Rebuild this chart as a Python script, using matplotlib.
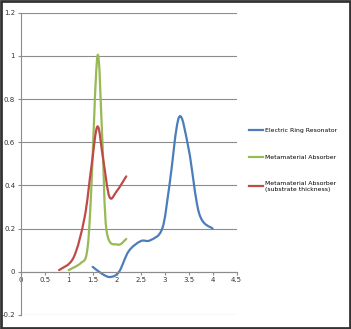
import matplotlib
matplotlib.use("Agg")
import matplotlib.pyplot as plt
from matplotlib.path import Path
from matplotlib.patches import PathPatch, Rectangle
from matplotlib.lines import Line2D
import numpy as np

plt.rcParams['font.family'] = ['DejaVu Sans']

# values
ring_x = [1.5, 1.7, 1.87, 2.05, 2.25, 2.5, 2.7, 2.95, 3.1, 3.3, 3.5, 3.72, 4.0]
ring_y = [0.023, -0.01, -0.024, 0.0, 0.095, 0.142, 0.146, 0.2, 0.4, 0.716, 0.57, 0.27, 0.2]

abs_x = [1.0, 1.25, 1.38, 1.46, 1.6, 1.7, 1.79, 2.02, 2.2]
abs_y = [0.008, 0.04, 0.09, 0.33, 1.0, 0.62, 0.19, 0.126, 0.152]

sub_x = [0.8, 1.1, 1.33, 1.47, 1.6, 1.72, 1.85, 2.0, 2.2]
sub_y = [0.008, 0.065, 0.25, 0.48, 0.673, 0.52, 0.347, 0.373, 0.442]

labels = ["Electric Ring Resonator", "Metamaterial Absorber",
          "Metamaterial Absorber\n(substrate thickness)"]
colors = ["#4A7EBB", "#98B954", "#BE4B48"]

xticks = [0, 0.5, 1, 1.5, 2, 2.5, 3, 3.5, 4, 4.5]
yticks = [-0.2, 0, 0.2, 0.4, 0.6, 0.8, 1, 1.2]


def smooth_path(xs, ys):
    # Excel-style smoothed line: cubic bezier through the points
    pts = np.column_stack([xs, ys])
    n = len(pts)
    verts = [pts[0]]
    codes = [Path.MOVETO]
    for i in range(n - 1):
        p0 = pts[i - 1] if i > 0 else pts[i]
        p1 = pts[i]
        p2 = pts[i + 1]
        p3 = pts[i + 2] if i + 2 < n else pts[i + 1]
        c1 = p1 + (p2 - p0) / 6.0
        c2 = p2 - (p3 - p1) / 6.0
        verts += [c1, c2, p2]
        codes += [Path.CURVE4] * 3
    return Path(verts, codes)


fig = plt.figure(figsize=(3.51, 3.29), dpi=100)
ax = fig.add_axes([0.059, 0.0426, 0.615, 0.9188])

for xs, ys, c in [(ring_x, ring_y, colors[0]), (abs_x, abs_y, colors[1]), (sub_x, sub_y, colors[2])]:
    ax.add_patch(PathPatch(smooth_path(xs, ys), fill=False, edgecolor=c, lw=1.6,
                           capstyle='round', joinstyle='round'))

ax.set_xlim(0, 4.5)
ax.set_ylim(-0.2, 1.2)
ax.set_xticks(xticks)
ax.set_xticklabels([f"{v:g}" for v in xticks])
ax.set_yticks(yticks)
ax.set_yticklabels([f"{v:g}" for v in yticks])
ax.grid(axis='y', color='#8c8c8c', lw=0.8)
ax.set_axisbelow(True)

for s in ['top', 'right']:
    ax.spines[s].set_visible(False)
ax.spines['bottom'].set_position(('data', 0))
ax.spines['bottom'].set_color('#8c8c8c')
ax.spines['left'].set_color('#8c8c8c')
ax.tick_params(axis='both', labelsize=5, colors='#8c8c8c', labelcolor='#333333',
               length=2, width=0.8, pad=2)

handles = [Line2D([], [], color=c, lw=1.6) for c in colors]
fig.legend(handles, labels, loc='upper left', bbox_to_anchor=(0.695, 0.628),
           frameon=False, fontsize=4.4, handlelength=2.2, handletextpad=0.3,
           labelspacing=3.5)

fig.patches.append(Rectangle((0.003, 0.003), 0.994, 0.994, transform=fig.transFigure,
                             fill=False, edgecolor='#333333', lw=2))

fig.savefig("out.png", dpi=100)
